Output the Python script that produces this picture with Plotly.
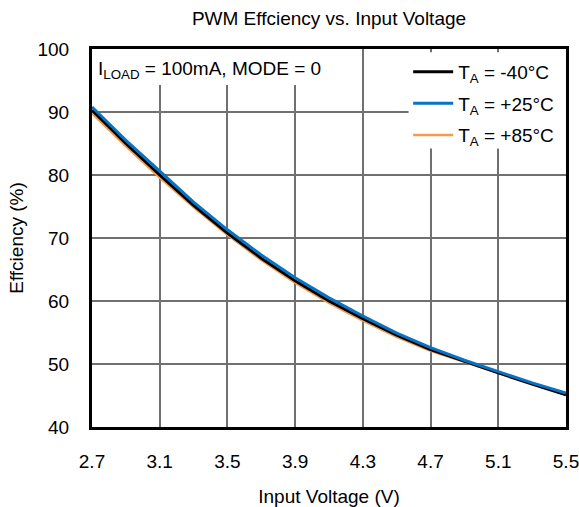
import plotly.graph_objects as go

# ---- data ----
vin = [2.7, 2.9, 3.1, 3.3, 3.5, 3.7, 3.9, 4.1, 4.3, 4.5, 4.7, 4.9, 5.1, 5.3, 5.5]
eff_m40 = [90.3, 85.0, 80.0, 75.2, 70.8, 66.8, 63.2, 60.0, 57.2, 54.6, 52.3, 50.4, 48.6, 46.8, 45.1]
eff_p25 = [90.8, 85.5, 80.6, 75.7, 71.3, 67.3, 63.7, 60.5, 57.6, 54.9, 52.6, 50.6, 48.8, 47.0, 45.4]
eff_p85 = [89.8, 84.6, 79.6, 74.9, 70.5, 66.5, 62.9, 59.7, 56.9, 54.3, 52.1, 50.3, 48.6, 46.9, 45.2]

names = ["T<sub>A</sub> = -40°C", "T<sub>A</sub> = +25°C", "T<sub>A</sub> = +85°C"]
x_ticks = [2.7, 3.1, 3.5, 3.9, 4.3, 4.7, 5.1, 5.5]
y_ticks = [40, 50, 60, 70, 80, 90, 100]

FONT = "Liberation Sans, Arial, sans-serif"
BLACK = "#000000"
BLUE = "#0872C4"
ORANGE = "#F79A4B"

fig = go.Figure()
# draw order: orange, black, blue (blue on top); legend order black, blue, orange
fig.add_trace(go.Scatter(x=vin, y=eff_p85, mode="lines", name=names[2],
                         legendgroup="c", legendrank=3,
                         line=dict(color=ORANGE, width=2.5)))
fig.add_trace(go.Scatter(x=vin, y=eff_m40, mode="lines", name=names[0],
                         legendgroup="a", legendrank=1,
                         line=dict(color=BLACK, width=3)))
fig.add_trace(go.Scatter(x=vin, y=eff_p25, mode="lines", name=names[1],
                         legendgroup="b", legendrank=2,
                         line=dict(color=BLUE, width=3)))

# white boxes hiding gridlines behind the note and the legend
X0, X1 = 2.7, 5.5
fig.add_shape(type="rect", xref="x", yref="y", x0=2.7, x1=4.25, y0=94.3, y1=100,
              fillcolor="white", line=dict(width=0), layer="between")
fig.add_shape(type="rect", xref="x", yref="y", x0=4.57, x1=5.5, y0=84.2, y1=99.5,
              fillcolor="white", line=dict(width=0), layer="between")

fig.add_annotation(text="I<sub>LOAD</sub> = 100mA, MODE = 0", xref="paper", yref="paper",
                   x=0.0, y=1.0, xanchor="left", yanchor="top", xshift=4, yshift=-7,
                   showarrow=False, font=dict(family=FONT, size=19, color="black"))

fig.update_layout(
    width=579, height=507,
    margin=dict(l=92, r=13, t=49, b=80),
    paper_bgcolor="white", plot_bgcolor="white",
    font=dict(family=FONT, size=19, color="black"),
    title=dict(text="PWM Effciency vs. Input Voltage", x=0.5, xref="paper",
               xanchor="center", y=1 - 18 / 507, yanchor="middle",
               font=dict(family=FONT, size=19, color="black")),
    showlegend=True,
    legend=dict(x=0.667, y=0.99, xanchor="left", yanchor="top",
                bgcolor="rgba(0,0,0,0)", borderwidth=0,
                font=dict(family=FONT, size=19, color="black"),
                itemwidth=40, tracegroupgap=4, traceorder="grouped"),
    xaxis=dict(range=[X0, X1], tickmode="array", tickvals=x_ticks,
               ticktext=[f"{v:.1f}" for v in x_ticks], ticklabeloverflow="allow",
               showgrid=True, gridcolor="#707070", gridwidth=1.5,
               showline=True, linecolor="black", linewidth=3, mirror=True,
               ticks="", ticklabelstandoff=15, zeroline=False, automargin=False,
               title=dict(text="Input Voltage (V)", standoff=22,
                          font=dict(family=FONT, size=19))),
    yaxis=dict(range=[40, 100], tickmode="array", tickvals=y_ticks,
               ticklabeloverflow="allow",
               showgrid=True, gridcolor="#707070", gridwidth=1.5,
               showline=True, linecolor="black", linewidth=3, mirror=True,
               ticks="", ticklabelstandoff=16, zeroline=False, automargin=False,
               title=dict(text="Effciency (%)", standoff=9,
                          font=dict(family=FONT, size=19))),
)

fig.write_html("out.html")
